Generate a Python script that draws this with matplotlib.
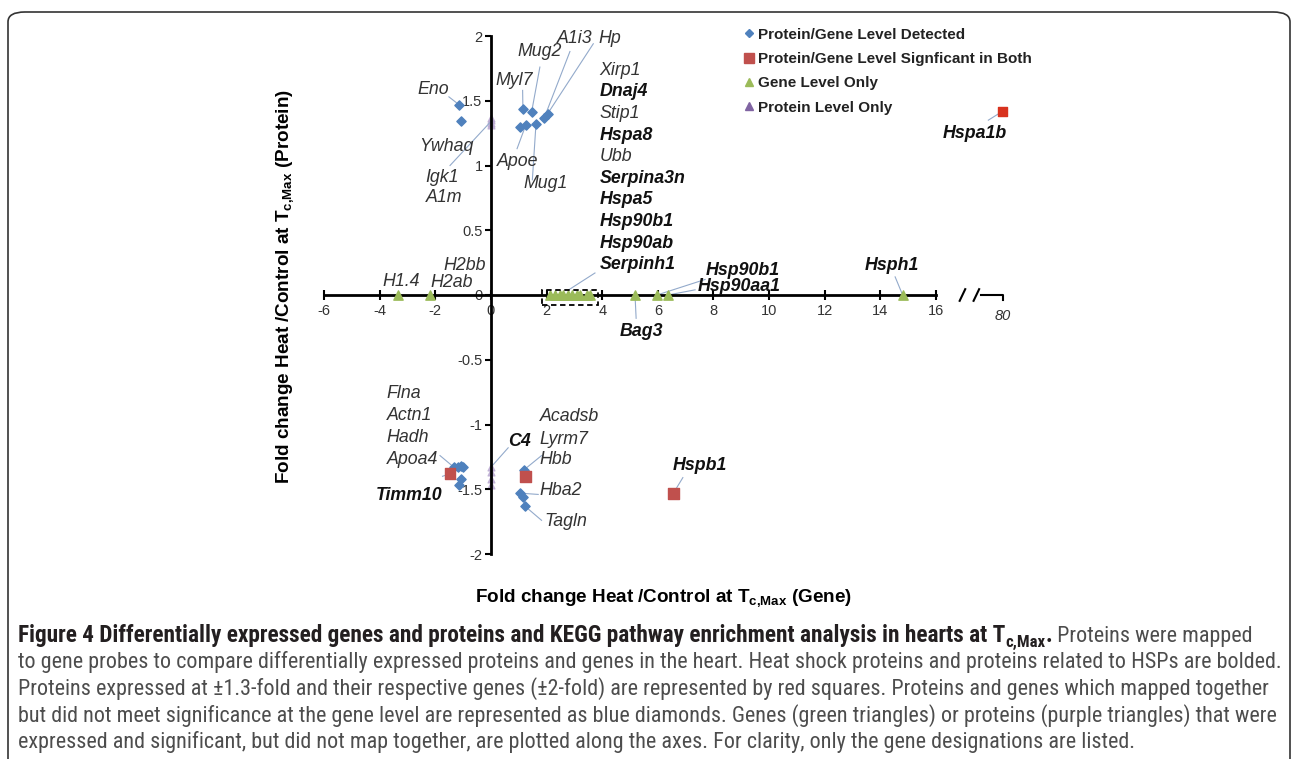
import numpy as np
import matplotlib
matplotlib.use("Agg")
import matplotlib.pyplot as plt
from matplotlib.lines import Line2D
from matplotlib.patches import FancyBboxPatch, Rectangle

plt.rcParams["font.family"] = ["Liberation Sans", "DejaVu Sans"]
plt.rcParams["mathtext.fontset"] = "custom"
plt.rcParams["mathtext.rm"] = "Liberation Sans:bold"
plt.rcParams["mathtext.it"] = "Liberation Sans:bold"
plt.rcParams["mathtext.bf"] = "Liberation Sans:bold"

# ---- data (fold change gene, fold change protein) ----
# blue diamonds: protein/gene level detected
detected_genes = ["Eno", "Ywhaq", "Myl7", "Mug2", "", "Apoe", "Mug1", "A1i3", "Hp",
                  "Apoa4", "Hadh", "Actn1", "Flna", "", "",
                  "Hbb", "Hba2", "", "Tagln"]
detected_gene_fc = [-1.15, -1.08, 1.15, 1.46, 1.04, 1.25, 1.62, 1.92, 2.04,
                    -1.33, -1.20, -1.08, -0.99, -1.08, -1.14,
                    1.19, 1.04, 1.14, 1.22]
detected_protein_fc = [1.47, 1.34, 1.44, 1.41, 1.30, 1.31, 1.32, 1.37, 1.40,
                       -1.33, -1.33, -1.32, -1.33, -1.42, -1.47,
                       -1.35, -1.53, -1.56, -1.63]

# red squares: significant in both
sig_genes = ["Hspa1b", "Hspb1", "Timm10", ""]
sig_gene_fc = [80, 6.56, -1.47, 1.25]
sig_protein_fc = [1.42, -1.53, -1.38, -1.40]

# green triangles: gene level only (on the x axis)
gene_only_genes = ["H1.4", "H2ab",
                   "Xirp1", "Dnaj4", "Stip1", "Hspa8", "Ubb", "Serpina3n",
                   "Hspa5", "Hsp90b1_c", "Hsp90ab", "Serpinh1",
                   "Bag3", "Hsp90b1", "Hsp90aa1", "Hsph1"]
gene_only_fc = [-3.35, -2.20,
                2.12, 2.30, 2.48, 2.59, 2.77, 2.91, 3.09, 3.20, 3.45, 3.56,
                5.18, 5.97, 6.37, 14.80]

# purple triangles: protein level only (on the y axis)
protein_only_fc = [1.31, 1.33, 1.35, 1.37, -1.33, -1.37, -1.42, -1.47]

cluster_names = ["Xirp1", "Dnaj4", "Stip1", "Hspa8", "Ubb", "Serpina3n",
                 "Hspa5", "Hsp90b1", "Hsp90ab", "Serpinh1"]
cluster_bold = [False, True, False, True, False, True, True, True, True, True]

x_ticks = list(range(-6, 17, 2))
y_ticks = [-2, -1.5, -1, -0.5, 0, 0.5, 1, 1.5, 2]

# ---- broken x axis: beyond 16 everything is squeezed ----
BREAK = 16
SQUEEZE = 2.4 / 64


def fwd(x):
    x = np.asarray(x, dtype=float)
    return np.where(x <= BREAK, x, BREAK + (x - BREAK) * SQUEEZE)


def inv(p):
    p = np.asarray(p, dtype=float)
    return np.where(p <= BREAK, p, BREAK + (p - BREAK) / SQUEEZE)


BLUE = "#4F81BD"
RED = "#C0504D"
GREEN = "#9BBB59"
PURPLE = "#8064A2"
LEAD = "#93AACB"
LABEL_SIZE = 12.8

W, H = 1292, 759
fig = plt.figure(figsize=(W / 100, H / 100), dpi=100)

# rounded frame round the whole figure
frame = FancyBboxPatch((8 / W, -0.05), (W - 10) / W, (H - 12) / H + 0.05,
                       boxstyle="round,pad=0,rounding_size=0.013",
                       transform=fig.transFigure, fill=False,
                       edgecolor="#333333", linewidth=1.2)
fig.patches.append(frame)

ax = fig.add_axes([324 / W, 205 / H, 684 / W, 518 / H])
ax.set_xscale("function", functions=(fwd, inv))
ax.set_xlim(-6, 85)
ax.set_ylim(-2, 2)
ax.patch.set_visible(False)

for s in ["top", "right"]:
    ax.spines[s].set_visible(False)
ax.spines["left"].set_position(("data", 0))
ax.spines["bottom"].set_position(("data", 0))
ax.spines["bottom"].set_bounds(-6, 16)
for s in ["left", "bottom"]:
    ax.spines[s].set_linewidth(2)
    ax.spines[s].set_zorder(3)

ax.set_xticks(x_ticks)
ax.set_xticklabels([str(t) for t in x_ticks])
ax.set_yticks(y_ticks)
ax.set_yticklabels(["%g" % t for t in y_ticks])
ax.tick_params(axis="x", direction="inout", length=7, width=1.5, pad=3,
               labelsize=10.5, labelcolor="#333333")
ax.tick_params(axis="y", direction="out", length=4, width=1.5, pad=2,
               labelsize=10.5, labelcolor="#333333")

# the squeezed piece of x axis up to 80
p0 = inv(17.6)
ax.plot([p0, 80, 80], [0.0, 0.0, -0.04], color="black", lw=1.5,
        clip_on=False, zorder=3)
for p in [16.95, 17.45]:
    ax.plot(inv([p - 0.1, p + 0.1]), [-0.045, 0.045], color="black",
            lw=1.5, clip_on=False, zorder=3)
ax.text(80, -0.165, "80", ha="center", va="center", fontsize=10.5,
        style="italic", color="#333333")

# points
ax.scatter(np.zeros(len(protein_only_fc)), protein_only_fc, marker="^", s=24,
           color="#B7A6CF", alpha=0.75, zorder=1, clip_on=False)
ax.scatter(gene_only_fc, np.zeros(len(gene_only_fc)), marker="^", s=45,
           color=GREEN, zorder=4, clip_on=False)
ax.scatter(detected_gene_fc, detected_protein_fc, marker="D", s=22,
           color=BLUE, zorder=4, clip_on=False)
sig_col = ["#D8321E", RED, RED, RED]
sig_size = [40, 60, 60, 60]
ax.scatter(sig_gene_fc, sig_protein_fc, marker="s", s=sig_size, color=sig_col,
           zorder=5, clip_on=False)

# dashed box round the gene cluster
cl = [gene_only_fc[gene_only_genes.index(n)] for n in gene_only_genes[2:12]]
ax.add_patch(Rectangle((min(cl) - 0.28, -0.075), max(cl) - min(cl) + 0.56, 0.115,
                       fill=False, ls=(0, (3, 2)), lw=1.3, color="black",
                       zorder=6, clip_on=False))

pts = {}
for n, x, y in zip(detected_genes, detected_gene_fc, detected_protein_fc):
    if n:
        pts[n] = (x, y)
for n, x, y in zip(sig_genes, sig_gene_fc, sig_protein_fc):
    if n:
        pts[n] = (x, y)
for n, x in zip(gene_only_genes, gene_only_fc):
    pts[n] = (x, 0.0)
pts["box_top"] = (np.mean(cl) - 0.05, 0.04)
pts["prot_up"] = (0.0, float(np.mean(protein_only_fc[:4])))
pts["prot_low"] = (0.0, protein_only_fc[4])

# labels: text, bold, x, y, ha
labels = [
    ("Eno", False, -2.09, 1.59, "center"),
    ("Ywhaq", False, -1.59, 1.15, "center"),
    ("Igk1", False, -1.74, 0.91, "center"),
    ("A1m", False, -1.69, 0.75, "center"),
    ("Myl7", False, 0.83, 1.66, "center"),
    ("Mug2", False, 1.76, 1.88, "center"),
    ("A1i3", False, 3.02, 1.98, "center"),
    ("Hp", False, 4.28, 1.98, "center"),
    ("Apoe", False, 0.95, 1.03, "center"),
    ("Mug1", False, 1.98, 0.86, "center"),
    ("H2bb", False, -0.94, 0.224, "center"),
    ("H1.4", False, -3.24, 0.108, "center"),
    ("H2ab", False, -1.42, 0.097, "center"),
    ("Bag3", True, 5.40, -0.28, "center"),
    ("Hsp90b1", True, 9.06, 0.193, "center"),
    ("Hsp90aa1", True, 8.92, 0.062, "center"),
    ("Hsph1", True, 14.42, 0.224, "center"),
    ("Hspa1b", True, float(inv(17.41)), 1.25, "center"),
    ("Hspb1", True, 7.52, -1.32, "center"),
    ("Flna", False, -3.75, -0.76, "left"),
    ("Actn1", False, -3.75, -0.934, "left"),
    ("Hadh", False, -3.75, -1.10, "left"),
    ("Apoa4", False, -3.75, -1.27, "left"),
    ("Timm10", True, -2.95, -1.545, "center"),
    ("C4", True, 1.04, -1.133, "center"),
    ("Acadsb", False, 1.76, -0.94, "left"),
    ("Lyrm7", False, 1.76, -1.115, "left"),
    ("Hbb", False, 1.76, -1.274, "left"),
    ("Hba2", False, 1.76, -1.506, "left"),
    ("Tagln", False, 1.94, -1.75, "left"),
]
for i, (n, b) in enumerate(zip(cluster_names, cluster_bold)):
    labels.append((n, b, 3.90, 1.737 - i * 0.1672, "left"))

for txt, bold, x, y, ha in labels:
    ax.text(x, y, txt, ha=ha, va="center", fontsize=LABEL_SIZE, style="italic",
            weight="bold" if bold else "normal",
            color="#111111" if bold else "#333333", zorder=7)

# leader lines: start point, target
leaders = [
    ((-1.51, 1.53), "Eno"),
    ((-1.47, 1.00), "prot_up"),
    ((1.14, 1.58), "Myl7"),
    ((1.76, 1.76), "Mug2"),
    ((2.84, 1.88), "A1i3"),
    ((3.68, 1.94), "Hp"),
    ((0.94, 1.13), "Apoe"),
    ((1.49, 0.89), "Mug1"),
    ((3.74, 0.17), "box_top"),
    ((7.70, 0.12), "Hsp90b1"),
    ((7.34, 0.04), "Hsp90aa1"),
    ((14.53, 0.14), "Hsph1"),
    ((5.22, -0.18), "Bag3"),
    ((float(inv(17.88)), 1.35), "Hspa1b"),
    ((6.90, -1.41), "Hspb1"),
    ((-1.74, -1.40), "Timm10"),
    ((-1.83, -1.24), "Apoa4"),
    ((0.62, -1.18), "prot_low"),
    ((1.82, -1.24), "Hbb"),
    ((1.70, -1.54), "Hba2"),
    ((1.82, -1.74), "Tagln"),
]
for (x0, y0), key in leaders:
    x1, y1 = pts[key]
    ax.plot([x0, x1], [y0, y1], color=LEAD, lw=0.8, zorder=2, clip_on=False)

# legend
handles = [
    Line2D([], [], ls="", marker="D", ms=4.5, color=BLUE),
    Line2D([], [], ls="", marker="s", ms=6.5, color=RED),
    Line2D([], [], ls="", marker="^", ms=6, color=GREEN),
    Line2D([], [], ls="", marker="^", ms=6, color=PURPLE),
]
names = ["Protein/Gene Level Detected", "Protein/Gene Level Signficant in Both",
         "Gene Level Only", "Protein Level Only"]
leg = ax.legend(handles, names, loc="upper left",
                bbox_to_anchor=(737 / W, 1 - 20 / H),
                bbox_transform=fig.transFigure, frameon=False,
                handlelength=0.6, handletextpad=0.25, borderpad=0,
                labelspacing=0.68, prop={"size": 11, "weight": "bold"})
for t in leg.get_texts():
    t.set_color("#222222")

# axis titles
fig.text(664 / W, 1 - 598 / H,
         r"Fold change Heat /Control at T$_{\mathrm{c{,}Max}}$ (Gene)",
         ha="center", va="center", fontsize=13.6, weight="bold")
fig.text(285 / W, 1 - 287 / H,
         r"Fold change Heat /Control at T$_{\mathrm{c{,}Max}}$ (Protein)",
         ha="center", va="center", fontsize=13.6, weight="bold", rotation=90)

# caption, drawn as runs of text so bold and subscripts can mix
cap_font = ["Liberation Sans Narrow", "DejaVu Sans Condensed", "Roboto Condensed",
            "Roboto", "DejaVu Sans"]
renderer = fig.canvas.get_renderer()
body = "#4D4D4D"
head = "#231F20"

probe = fig.text(0, 0, "to gene probes to compare differentially expressed proteins and genes "
                 "in the heart. Heat shock proteins and proteins related to HSPs are bolded.",
                 fontsize=10, family=cap_font)
width = probe.get_window_extent(renderer).width
probe.remove()
cs = 10 * 1257 / width
hs = 1.05  # bold heading is a little wider in the original

cap_lines = [
    [("Figure 4 Differentially expressed genes and proteins and KEGG pathway "
      "enrichment analysis in hearts at T", "bold", hs, 0, head),
     ("c,Max", "bold", 0.72 * hs, -5, head),
     (".", "bold", hs, 0, head),
     (" Proteins were mapped", "normal", 1.0, 0, body)],
    [("to gene probes to compare differentially expressed proteins and genes in the "
      "heart. Heat shock proteins and proteins related to HSPs are bolded.", "normal", 1.0, 0, body)],
    [("Proteins expressed at \u00b11.3-fold and their respective genes (\u00b12-fold) are "
      "represented by red squares. Proteins and genes which mapped together", "normal", 1.0, 0, body)],
    [("but did not meet significance at the gene level are represented as blue diamonds. "
      "Genes (green triangles) or proteins (purple triangles) that were", "normal", 1.0, 0, body)],
    [("expressed and significant, but did not map together, are plotted along the axes. "
      "For clarity, only the gene designations are listed.", "normal", 1.0, 0, body)],
]
line_y = [636, 662, 689, 716, 742]
for runs, yy in zip(cap_lines, line_y):
    x = 18
    for txt, wt, scale, dy, col in runs:
        t = fig.text(x / W, 1 - (yy + 6 - dy) / H, txt, fontsize=cs * scale,
                     weight=wt, family=cap_font, color=col, va="baseline")
        x += t.get_window_extent(renderer).width

fig.savefig("out.png", dpi=100)
